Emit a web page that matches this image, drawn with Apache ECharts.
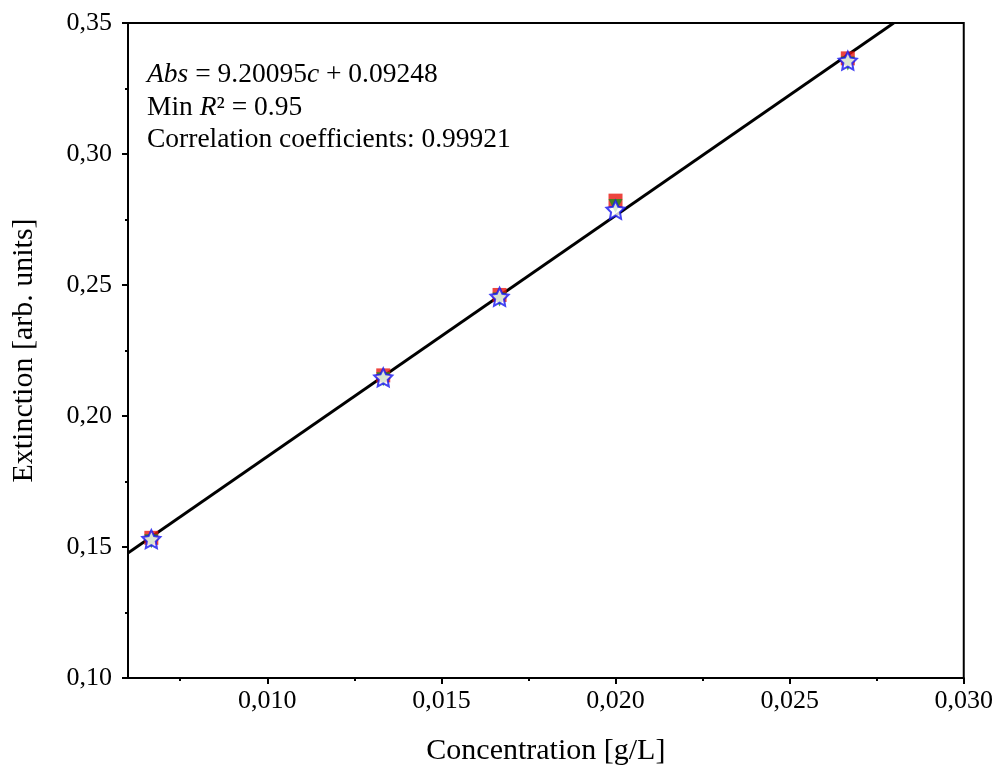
<!DOCTYPE html>
<html>
<head>
<meta charset="utf-8">
<script src="https://cdn.jsdelivr.net/npm/echarts@6/dist/echarts.min.js"></script>
<style>
  html, body { margin: 0; padding: 0; background: #fff; }
  #chart { width: 996px; height: 776px; }
</style>
</head>
<body>
<div id="chart"></div>
<script>
// concentrations [g/L]
var concentration = [0.00667, 0.01333, 0.01667, 0.02000, 0.02667];

// extinction of the replicates
var seriesRed = [0.1535, 0.2155, 0.2462, 0.2822, 0.3365];
var seriesGreen = [0.1522, 0.2140, 0.2445, 0.2802, 0.3345];
var seriesStar = [0.1530, 0.2147, 0.2455, 0.2787, 0.3356];

// linear fit, end points
var fitX = [0.006, 0.02799];
var fitY = [0.1477, 0.3500];

// tick positions
var xMajorTicks = [0.010, 0.015, 0.020, 0.025, 0.030];
var xMinorTicks = [0.0075, 0.0125, 0.0175, 0.0225, 0.0275];

var FONT = '"Liberation Serif", "DejaVu Serif", serif';
// fat five point star
var STAR = 'path://M0,-10 L2.9,-4 L9.51,-3.09 L4.7,1.5 L5.88,8.09 L0,5 L-5.88,8.09 L-4.7,1.5 L-9.51,-3.09 L-2.9,-4 Z';

function pairs(xs, ys) {
  var out = [];
  for (var i = 0; i < xs.length; i++) {
    out.push([xs[i], ys[i]]);
  }
  return out;
}

var chart = echarts.init(document.getElementById('chart'), null, { renderer: 'canvas' });

var option = {
  backgroundColor: '#fff',
  animation: false,
  grid: {
    left: 128, right: 31, top: 23, bottom: 98,
    show: true,
    borderColor: '#000',
    borderWidth: 2,
    containLabel: false
  },
  xAxis: [{
    type: 'value',
    min: 0.006, max: 0.030,
    position: 'bottom',
    name: 'Concentration [g/L]',
    nameLocation: 'middle',
    nameGap: 58,
    nameTextStyle: { fontFamily: FONT, fontSize: 30, color: '#000' },
    axisLine: { show: true, lineStyle: { color: '#000', width: 2 } },
    axisTick: { show: true, inside: false, length: 6, lineStyle: { color: '#000', width: 2 }, customValues: xMajorTicks },
    axisLabel: {
      show: true, margin: 10, customValues: xMajorTicks,
      fontFamily: FONT, fontSize: 26, color: '#000',
      formatter: function (v) { return v.toFixed(3).replace('.', ','); }
    },
    splitLine: { show: false }
  }, {
    type: 'value',
    min: 0.006, max: 0.030,
    position: 'bottom',
    axisLine: { show: false },
    axisTick: { show: true, inside: false, length: 3, lineStyle: { color: '#000', width: 2 }, customValues: xMinorTicks },
    axisLabel: { show: false },
    splitLine: { show: false }
  }],
  yAxis: {
    type: 'value',
    min: 0.10, max: 0.35, interval: 0.05,
    name: 'Extinction [arb. units]',
    nameLocation: 'middle',
    nameGap: 89,
    nameTextStyle: { fontFamily: FONT, fontSize: 30, color: '#000' },
    axisLine: { show: true, lineStyle: { color: '#000', width: 2 } },
    axisTick: { show: true, inside: false, length: 6, lineStyle: { color: '#000', width: 2 } },
    minorTick: { show: true, splitNumber: 2, length: 3, lineStyle: { color: '#000', width: 2 } },
    axisLabel: {
      margin: 16,
      fontFamily: FONT, fontSize: 26, color: '#000',
      formatter: function (v) { return v.toFixed(2).replace('.', ','); }
    },
    splitLine: { show: false }
  },
  graphic: [{
    type: 'text',
    left: 147, top: 59,
    style: {
      text: '{i|Abs} = 9.20095{i|c} + 0.09248\nMin {i|R}² = 0.95\nCorrelation coefficients: 0.99921',
      font: '27.5px ' + FONT,
      fill: '#000',
      lineHeight: 32.5,
      rich: {
        i: { fontStyle: 'italic', fontFamily: FONT, fontSize: 27.5, fill: '#000', lineHeight: 32.5 }
      }
    }
  }],
  series: [{
    name: 'fit',
    type: 'line',
    data: pairs(fitX, fitY),
    showSymbol: false,
    clip: true,
    lineStyle: { color: '#000', width: 2.8 },
    z: 1
  }, {
    name: 'red',
    type: 'scatter',
    data: pairs(concentration, seriesRed),
    symbol: 'rect',
    symbolSize: 14,
    itemStyle: { color: '#e8170f' },
    z: 2
  }, {
    name: 'green',
    type: 'scatter',
    data: pairs(concentration, seriesGreen),
    symbol: 'triangle',
    symbolRotate: 180,
    symbolSize: 14,
    itemStyle: { color: '#1a8f1a' },
    z: 3
  }, {
    name: 'star',
    type: 'scatter',
    data: pairs(concentration, seriesStar),
    symbol: STAR,
    symbolSize: 18,
    itemStyle: { color: '#fff', borderColor: '#1515f0', borderWidth: 2 },
    z: 4
  }]
};

chart.setOption(option);
</script>
</body>
</html>
